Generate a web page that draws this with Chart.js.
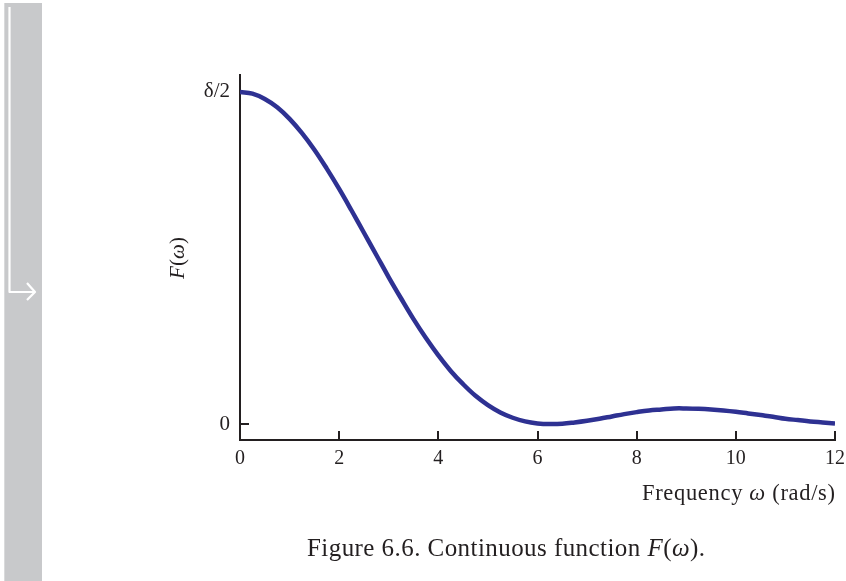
<!DOCTYPE html>
<html>
<head>
<meta charset="utf-8">
<script src="https://cdn.jsdelivr.net/npm/chart.js@4/dist/chart.umd.min.js"></script>
<style>
html,body{margin:0;padding:0;background:#fff;}
#wrap{position:relative;width:846px;height:581px;}
canvas{display:block;}
</style>
</head>
<body>
<div id="wrap"><canvas id="c" width="846" height="581"></canvas></div>
<script>
// ---- data ----
const omega = [0,0.25,0.5,0.75,1,1.25,1.5,1.75,2,2.25,2.5,2.75,3,3.25,3.5,3.75,4,4.25,4.5,4.75,5,5.25,5.5,5.75,6,6.25,6.5,6.75,7,7.25,7.5,7.75,8,8.25,8.5,8.75,9,9.25,9.5,9.75,10,10.25,10.5,10.75,11,11.25,11.5,11.75,12];
const F = [1.000,0.995,0.979,0.954,0.919,0.876,0.826,0.769,0.708,0.643,0.576,0.509,0.442,0.378,0.316,0.259,0.207,0.160,0.120,0.085,0.057,0.035,0.019,0.008,0.002,0.000,0.001,0.005,0.010,0.016,0.023,0.030,0.036,0.041,0.044,0.047,0.047,0.046,0.044,0.041,0.037,0.032,0.027,0.022,0.016,0.012,0.008,0.005,0.002];
const xTicks = [0,2,4,6,8,10,12];
const yTicks = [0,1];
const yTickLabels = ['0','δ/2'];
const xTitleParts = [['Frequency ', false], ['ω', true], [' (rad/s)', false]];
const yTitleParts = [['F', true], ['(', false], ['ω', true], [')', false]];
const captionParts = [['Figure 6.6. Continuous function ', false], ['F', true], ['(', false], ['ω', true], [').', false]];

const SERIF = '"Liberation Serif", "DejaVu Serif", serif';
const INK = '#231f20';

function drawParts(ctx, parts, size, x, y, align, target) {
  const setF = p => { ctx.font = (p[1] ? 'italic ' : '') + size + 'px ' + SERIF; };
  let w = 0, n = 0;
  parts.forEach(p => { setF(p); w += ctx.measureText(p[0]).width; n += p[0].length; });
  let ls = 0;
  if (target) { ls = (target - w) / Math.max(1, n - 1); }
  const total = target || w;
  let cx = align === 'right' ? x - total : align === 'center' ? x - total / 2 : x;
  ctx.textAlign = 'left';
  parts.forEach(p => {
    setF(p);
    for (const ch of p[0]) {
      ctx.fillText(ch, cx, y);
      cx += ctx.measureText(ch).width + ls;
    }
  });
}

const decor = {
  id: 'decor',
  beforeDraw(chart) {
    const ctx = chart.ctx;
    ctx.save();
    ctx.fillStyle = '#c8c9cb';
    ctx.fillRect(4, 3, 38, 578);
    ctx.fillStyle = '#d9dadb';
    ctx.fillRect(4, 3, 1, 578);
    ctx.strokeStyle = '#ffffff';
    ctx.lineWidth = 2.2;
    ctx.lineJoin = 'round';
    ctx.beginPath();
    ctx.moveTo(9.5, 7);
    ctx.lineTo(9.5, 292);
    ctx.lineTo(35, 292);
    ctx.stroke();
    ctx.beginPath();
    ctx.moveTo(27, 283);
    ctx.lineTo(35, 292);
    ctx.lineTo(27, 300);
    ctx.stroke();
    ctx.restore();
  },
  afterDraw(chart) {
    const ctx = chart.ctx;
    const xs = chart.scales.x, ys = chart.scales.y;
    ctx.save();
    ctx.strokeStyle = INK;
    ctx.lineWidth = 2;
    xTicks.forEach(v => {
      if (v === 0) return;
      const px = Math.round(xs.getPixelForValue(v));
      ctx.beginPath(); ctx.moveTo(px, ys.bottom); ctx.lineTo(px, ys.bottom - 9); ctx.stroke();
    });
    yTicks.forEach(v => {
      if (v === 1) return;
      const py = Math.round(ys.getPixelForValue(v));
      ctx.beginPath(); ctx.moveTo(xs.left, py); ctx.lineTo(xs.left + 9, py); ctx.stroke();
    });
    ctx.fillStyle = INK;
    ctx.textBaseline = 'middle';
    drawParts(ctx, xTitleParts, 22.5, xs.right, 494, 'right', 193);
    ctx.save();
    ctx.translate(178, 258);
    ctx.rotate(-Math.PI / 2);
    drawParts(ctx, yTitleParts, 21, 0, 0, 'center', 42);
    ctx.restore();
    drawParts(ctx, captionParts, 25, 506, 549, 'center', 398);
    ctx.restore();
  }
};

new Chart(document.getElementById('c'), {
  type: 'line',
  data: {
    datasets: [{
      data: omega.map((w, i) => ({x: w, y: F[i]})),
      borderColor: '#2e3192',
      borderWidth: 4.5,
      pointRadius: 0,
      fill: false,
      tension: 0.4,
      borderCapStyle: 'butt'
    }]
  },
  options: {
    responsive: false,
    animation: false,
    events: [],
    layout: { padding: { left: 0, right: 11, top: 75, bottom: 111 } },
    plugins: { legend: { display: false }, tooltip: { enabled: false } },
    scales: {
      x: {
        type: 'linear', min: 0, max: 12,
        afterBuildTicks: s => { s.ticks = xTicks.map(v => ({value: v})); },
        afterFit: s => { s.height = 30; s.paddingLeft = 0; s.paddingRight = 0; },
        grid: { display: false, drawTicks: false },
        border: { display: true, color: INK, width: 2 },
        ticks: { color: INK, padding: 7, maxRotation: 0, font: { family: SERIF, size: 20 } }
      },
      y: {
        type: 'linear', min: -0.048, max: 1.051,
        afterBuildTicks: s => { s.ticks = yTicks.map(v => ({value: v})); },
        afterFit: s => { s.width = 240; s.paddingTop = 0; s.paddingBottom = 0; },
        grid: { display: false, drawTicks: false },
        border: { display: true, color: INK, width: 2 },
        ticks: { color: INK, padding: 10, font: { family: SERIF, size: 21 },
          callback: (v) => { const i = yTicks.indexOf(v); return i >= 0 ? yTickLabels[i] : ''; } }
      }
    }
  },
  plugins: [decor]
});
</script>
</body>
</html>
